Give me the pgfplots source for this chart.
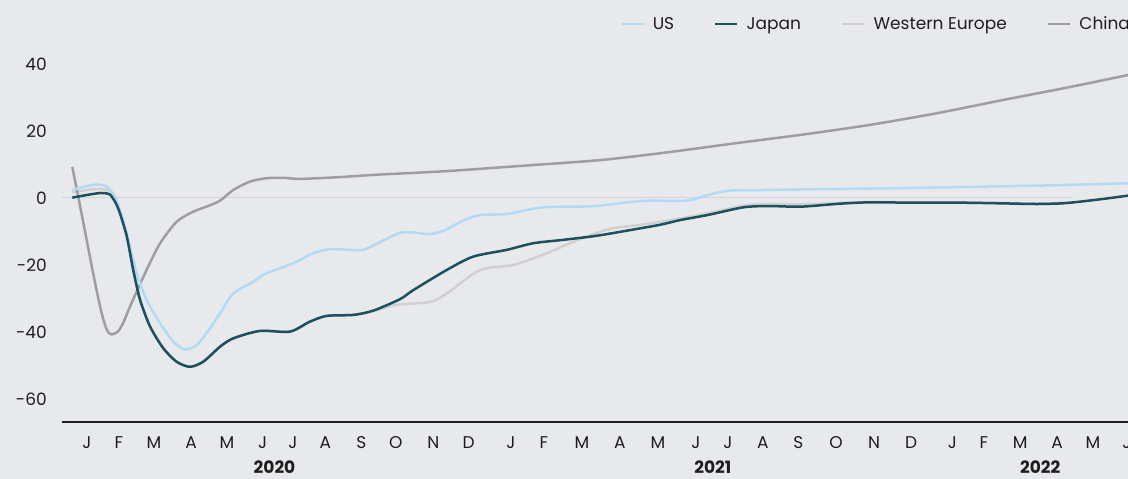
\documentclass[border=0pt]{standalone}
\usepackage{fontspec}
\setmainfont{Poppins}
\usepackage{pgfplots}
\pgfplotsset{compat=1.18}

\definecolor{bg}{RGB}{232,233,236}
\definecolor{usblue}{RGB}{178,218,245}
\definecolor{japan}{RGB}{28,80,94}
\definecolor{weur}{RGB}{208,208,208}
\definecolor{china}{RGB}{158,158,158}
\definecolor{txt}{RGB}{30,30,30}
\newcommand\fs{\fontsize{17pt}{20pt}\selectfont}

\begin{document}
\begin{tikzpicture}
% 1pt = 1px of the reference; axis box is (0,0)--(1066,422)
\useasboundingbox (-62pt,-57pt) rectangle (1066pt,422pt);
\clip (-62pt,-57pt) rectangle (1066pt,422pt);
\fill[bg] (-62pt,-57pt) rectangle (1066pt,422pt);
\begin{axis}[
    scale only axis,
    width=1066pt, height=422pt,
    xmin=-0.697, xmax=29.03,
    ymin=-66.87, ymax=59.10,
    axis x line*=bottom,
    axis y line*=left,
    x axis line style={draw=txt, line width=2pt},
    y axis line style={draw=none},
    major tick length=0pt,
    ytick={-60,-40,-20,0,20,40},
    yticklabels={-60,-40,-20,0,20,40},
    yticklabel style={anchor=east, inner sep=0pt, xshift=-15pt, font=\fs, text=txt},
    xtick={0,0.89,1.87,2.90,3.90,4.90,5.74,6.65,7.65,8.61,9.66,10.64,
           11.82,12.74,13.80,14.86,15.92,16.98,17.87,18.85,19.84,20.89,21.95,22.98,
           24.13,25.01,26.02,27.05,28.05,29.0},
    xticklabels={J,F,M,A,M,J,J,A,S,O,N,D,J,F,M,A,M,J,J,A,S,O,N,D,J,F,M,A,M,J},
    xticklabel style={anchor=base, inner sep=0pt, yshift=-27pt, font=\fs, text=txt},
    clip=false,
    legend columns=4,
    legend style={at={(0.5235,0.943)}, anchor=west, draw=none, fill=none,
        inner sep=0pt, font=\fs, text=txt,
        nodes={inner sep=0pt},
        /tikz/every odd column/.append style={column sep=8pt},
        /tikz/every even column/.append style={column sep=40pt}},
    legend image code/.code={\draw[#1] (0pt,0pt) -- (22pt,0pt);},
    every axis plot/.append style={line width=2.5pt, smooth, tension=0.45},
]
\addlegendimage{usblue, line width=2.5pt}
\addlegendimage{japan, line width=2.5pt}
\addlegendimage{weur, line width=2.5pt}
\addlegendimage{china, line width=2.5pt}
\legend{US,Japan,Western Europe,China}

% zero reference line
\draw[draw={rgb,255:red,212;green,212;blue,214}, line width=1pt]
    (axis cs:-0.697,0) -- (axis cs:27.5,0);

% Western Europe
\addplot[weur, forget plot] coordinates {
(-0.41,1.7) (0.0,2.4) (0.4,2.7) (0.64,2.0) (0.8,-1.2) (0.92,-4.4) (1.11,-11.3)
(1.29,-21.3) (1.48,-30.2) (1.76,-38.3) (2.13,-44.8) (2.50,-48.8) (2.87,-50.3)
(3.24,-48.8) (3.71,-44.3) (4.08,-41.8) (4.82,-39.6) (5.66,-39.8) (6.2,-37.0)
(6.68,-35.2) (7.43,-34.9) (7.99,-33.8) (8.63,-31.9) (9.57,-31.0) (10.03,-28.5)
(10.96,-21.5) (11.89,-20.0) (12.82,-16.5) (13.47,-13.5) (14.2,-10.5) (14.68,-9.0)
(15.6,-7.8) (16.54,-6.1) (17.3,-4.6) (18.3,-2.3) (19.0,-1.8) (19.9,-1.9)
(21.0,-1.5) (21.83,-1.2) (23,-1.3) (24.34,-1.3) (25.5,-1.5) (26.48,-1.7) (27.5,-1.3)
};

% China
\addplot[china, forget plot] coordinates {
(-0.41,9.3) (-0.2,-2.0) (0.0,-13.0) (0.2,-24.0) (0.4,-34.0) (0.55,-39.3)
(0.67,-40.7) (0.85,-40.0) (1.0,-37.5) (1.2,-32.4) (1.66,-21.5) (2.04,-13.5)
(2.50,-7.1) (2.96,-4.1) (3.4,-2.3) (3.71,-0.8) (4.08,2.4) (4.55,4.9) (5.01,5.9)
(5.5,6.0) (5.94,5.7) (7,6.2) (8,6.9) (10,8.0) (12,9.5) (14.3,11.3) (16.17,13.6)
(18.06,16.3) (19.94,18.9) (21.82,21.8) (23.7,25.3) (25.57,29.3) (27.45,33.2)
(29.03,36.7)
};

% US
\addplot[usblue, forget plot] coordinates {
(-0.41,2.4) (0.0,3.6) (0.3,4.0) (0.55,3.4) (0.78,0.4) (0.92,-3.6) (1.11,-10.5)
(1.39,-22.5) (1.66,-30.4) (2.04,-37.4) (2.41,-42.9) (2.73,-45.2) (3.06,-43.9)
(3.43,-38.9) (3.71,-34.4) (4.08,-28.5) (4.64,-25.0) (5.0,-22.5) (5.75,-19.5)
(6.3,-16.5) (6.75,-15.3) (7.2,-15.4) (7.7,-15.5) (8.2,-13.0) (8.73,-10.4)
(9.1,-10.3) (9.57,-10.8) (10.0,-9.5) (10.5,-6.7) (10.96,-5.1) (11.7,-4.8)
(12.3,-3.5) (12.82,-2.7) (13.5,-2.6) (14.2,-2.4) (14.9,-1.5) (15.6,-0.8)
(16.7,-0.8) (17.3,0.8) (17.9,2.2) (19,2.4) (21,2.7) (23,3.0) (25,3.4) (27,3.8)
(29.03,4.4)
};

% Japan
\addplot[japan, forget plot] coordinates {
(-0.41,0.1) (0.0,0.9) (0.4,1.5) (0.64,1.0) (0.8,-1.5) (0.92,-4.6) (1.11,-11.5)
(1.29,-21.5) (1.48,-30.4) (1.76,-38.4) (2.13,-44.9) (2.50,-48.9) (2.87,-50.4)
(3.24,-48.9) (3.71,-44.4) (4.08,-41.9) (4.82,-39.7) (5.66,-39.9) (6.2,-37.0)
(6.68,-35.2) (7.43,-34.9) (7.99,-33.6) (8.73,-30.2) (9.1,-27.5) (10.03,-21.5)
(10.77,-17.5) (11.7,-15.5) (12.45,-13.5) (13.28,-12.5) (14.2,-11.3) (15.14,-9.6)
(15.98,-8.0) (16.54,-6.6) (17.3,-5.1) (18.3,-2.8) (19.0,-2.4) (19.9,-2.6)
(21.0,-1.7) (21.83,-1.3) (23,-1.4) (24.34,-1.4) (25.5,-1.6) (26.48,-1.8)
(27.2,-1.6) (27.69,-1.1) (28.4,-0.2) (29.03,0.7)
};

\node[anchor=base, yshift=-52pt, font=\fs\bfseries, text=txt] at (axis cs:5.23,-66.87) {2020};
\node[anchor=base, yshift=-52pt, font=\fs\bfseries, text=txt] at (axis cs:17.45,-66.87) {2021};
\node[anchor=base, yshift=-52pt, font=\fs\bfseries, text=txt] at (axis cs:26.58,-66.87) {2022};
\end{axis}
\end{tikzpicture}
\end{document}
